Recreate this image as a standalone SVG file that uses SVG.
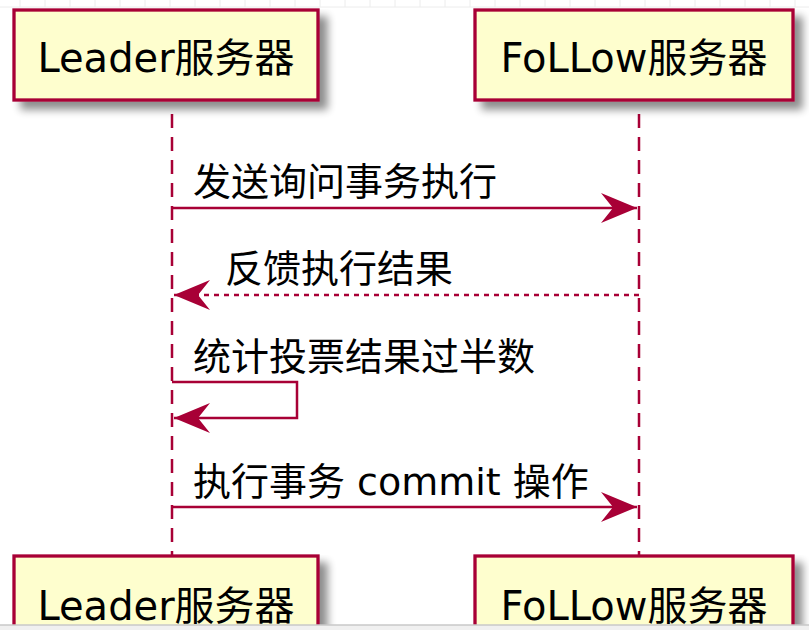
<svg xmlns="http://www.w3.org/2000/svg" width="809" height="630" viewBox="0 0 809 630">
<defs>
<filter id="sh" x="-10%" y="-10%" width="130%" height="150%">
<feGaussianBlur in="SourceAlpha" stdDeviation="4"/>
<feOffset dx="8" dy="8" result="b"/>
<feComponentTransfer><feFuncA type="linear" slope="0.45"/></feComponentTransfer>
<feMerge><feMergeNode/><feMergeNode in="SourceGraphic"/></feMerge>
</filter>
<marker id="ah" viewBox="0 0 36 30" refX="36" refY="15" markerWidth="36" markerHeight="30" markerUnits="userSpaceOnUse" orient="auto">
<polygon points="36,15 0,0 12,15 0,30" fill="#A80036"/>
</marker>
</defs>
<style>
.box{fill:#FEFECE;stroke:#A80036;stroke-width:3.3}
.pt{font-family:"DejaVu Sans","Noto Sans CJK SC",sans-serif;font-size:40px;fill:#000;text-anchor:middle}
.mt{font-family:"DejaVu Sans","Noto Sans CJK SC",sans-serif;font-size:38px;fill:#000}
.life{stroke:#A80036;stroke-width:2.5;stroke-dasharray:14 9;fill:none}
.msg{stroke:#A80036;stroke-width:2.5;fill:none}
.grid{stroke:#ececec;stroke-width:1}
</style>
<rect width="809" height="630" fill="#fff"/>
<g id="bggrid">
<line class="grid" x1="0" y1="7" x2="809" y2="7"/>
<line class="grid" x1="20" y1="0" x2="20" y2="7"/><line class="grid" x1="45" y1="0" x2="45" y2="7"/><line class="grid" x1="70" y1="0" x2="70" y2="7"/><line class="grid" x1="95" y1="0" x2="95" y2="7"/><line class="grid" x1="120" y1="0" x2="120" y2="7"/><line class="grid" x1="145" y1="0" x2="145" y2="7"/><line class="grid" x1="170" y1="0" x2="170" y2="7"/><line class="grid" x1="195" y1="0" x2="195" y2="7"/><line class="grid" x1="220" y1="0" x2="220" y2="7"/><line class="grid" x1="245" y1="0" x2="245" y2="7"/><line class="grid" x1="270" y1="0" x2="270" y2="7"/><line class="grid" x1="295" y1="0" x2="295" y2="7"/><line class="grid" x1="320" y1="0" x2="320" y2="7"/><line class="grid" x1="345" y1="0" x2="345" y2="7"/><line class="grid" x1="370" y1="0" x2="370" y2="7"/><line class="grid" x1="395" y1="0" x2="395" y2="7"/><line class="grid" x1="420" y1="0" x2="420" y2="7"/><line class="grid" x1="445" y1="0" x2="445" y2="7"/><line class="grid" x1="470" y1="0" x2="470" y2="7"/><line class="grid" x1="495" y1="0" x2="495" y2="7"/><line class="grid" x1="520" y1="0" x2="520" y2="7"/><line class="grid" x1="545" y1="0" x2="545" y2="7"/><line class="grid" x1="570" y1="0" x2="570" y2="7"/><line class="grid" x1="595" y1="0" x2="595" y2="7"/><line class="grid" x1="620" y1="0" x2="620" y2="7"/><line class="grid" x1="645" y1="0" x2="645" y2="7"/><line class="grid" x1="670" y1="0" x2="670" y2="7"/><line class="grid" x1="695" y1="0" x2="695" y2="7"/><line class="grid" x1="720" y1="0" x2="720" y2="7"/><line class="grid" x1="745" y1="0" x2="745" y2="7"/><line class="grid" x1="770" y1="0" x2="770" y2="7"/><line class="grid" x1="795" y1="0" x2="795" y2="7"/>
</g>
<g id="lifelines">
<line class="life" x1="172" y1="114" x2="172" y2="556"/>
<line class="life" x1="639" y1="114" x2="639" y2="556"/>
</g>
<g id="leader-top"><rect class="box" x="14" y="10" width="304" height="90" filter="url(#sh)"/><text class="pt" x="166" y="72">Leader服务器</text></g>
<g id="follow-top"><rect class="box" x="475" y="10" width="318" height="90" filter="url(#sh)"/><text class="pt" x="634" y="72">FoLLow服务器</text></g>
<g id="leader-bottom"><rect class="box" x="14" y="556" width="304" height="90" filter="url(#sh)"/><text class="pt" x="166" y="620">Leader服务器</text></g>
<g id="follow-bottom"><rect class="box" x="475" y="556" width="318" height="90" filter="url(#sh)"/><text class="pt" x="634" y="620">FoLLow服务器</text></g>
<g id="connectors">
<line class="msg" x1="172" y1="208" x2="637" y2="208" marker-end="url(#ah)"/>
<line class="msg" x1="639" y1="295" x2="174" y2="295" stroke-dasharray="5 5" marker-end="url(#ah)"/>
<polyline class="msg" points="172,382 297,382 297,418 174,418" marker-end="url(#ah)"/>
<line class="msg" x1="172" y1="507" x2="637" y2="507" marker-end="url(#ah)"/>
</g>
<g id="labels">
<text class="mt" x="193" y="195">发送询问事务执行</text>
<text class="mt" x="225" y="282">反馈执行结果</text>
<text class="mt" x="193" y="370">统计投票结果过半数</text>
<text class="mt" x="193" y="495">执行事务 commit 操作</text>
</g>
<g id="frame">
<rect x="0" y="625" width="809" height="5" fill="#f0f0f0"/>
<line x1="0" y1="625" x2="809" y2="625" stroke="#c8c8c8" stroke-width="1.5"/>
</g>
</svg>
